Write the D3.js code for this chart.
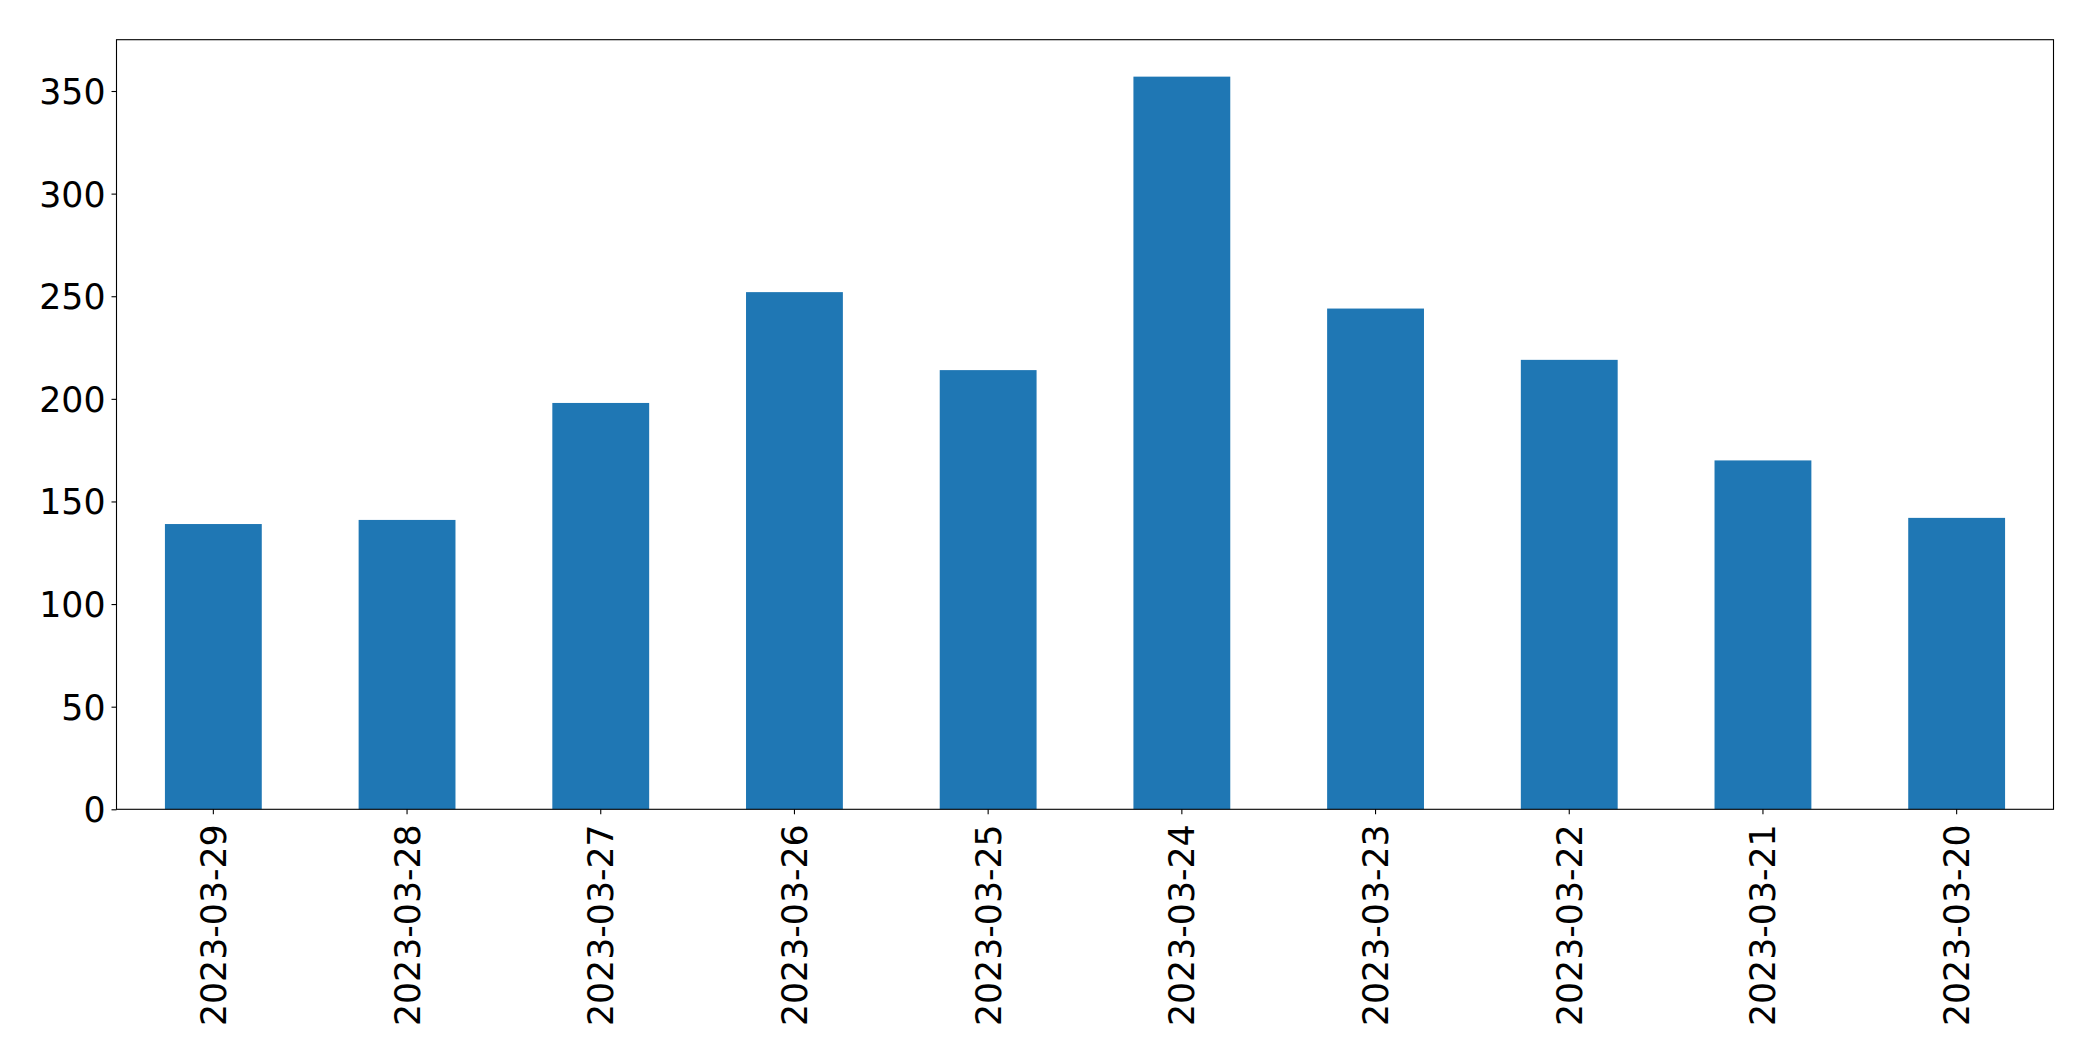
<!DOCTYPE html>
<html>
<head>
<meta charset="utf-8">
<script src="https://cdn.jsdelivr.net/npm/d3@7"></script>
<style>
  html, body { margin: 0; padding: 0; background: #fff; }
  svg { display: block; }
  text { font-family: "DejaVu Sans", sans-serif; }
</style>
</head>
<body>
<svg id="chart" width="2093" height="1061"></svg>
<script>
const categories = ["2023-03-29","2023-03-28","2023-03-27","2023-03-26","2023-03-25","2023-03-24","2023-03-23","2023-03-22","2023-03-21","2023-03-20"];
const values = [139, 141, 198, 252, 214, 357, 244, 219, 170, 142];
const yTicks = [0, 50, 100, 150, 200, 250, 300, 350];

const W = 2093, H = 1061;
const margin = { left: 116.5, right: 2093 - 2053.5, top: 39.7, bottom: 1061 - 809.3 };
const iw = W - margin.left - margin.right;
const ih = H - margin.top - margin.bottom;

const svg = d3.select("#chart");
const g = svg.append("g").attr("transform", `translate(${margin.left},${margin.top})`);

const x = d3.scaleBand().domain(categories).range([0, iw]).paddingInner(0.5).paddingOuter(0.25);
const y = d3.scaleLinear().domain([0, 375]).range([ih, 0]);

g.selectAll("rect.bar").data(values).enter().append("rect")
  .attr("class", "bar")
  .attr("x", (d, i) => x(categories[i]))
  .attr("width", x.bandwidth())
  .attr("y", d => y(d))
  .attr("height", d => y(0) - y(d))
  .attr("fill", "#1f77b4");

const fs = 34.72;

const yAxis = g.append("g")
  .call(d3.axisLeft(y).tickValues(yTicks).tickSize(5).tickPadding(6).tickFormat(d3.format("d")));
yAxis.select(".domain").remove();
yAxis.selectAll("line").attr("stroke", "#000").attr("stroke-width", 1.1);
yAxis.selectAll("text").attr("font-size", fs).attr("fill", "#000").attr("dy", "0.36em");

const xAxis = g.append("g").attr("transform", `translate(0,${ih})`)
  .call(d3.axisBottom(x).tickSize(5).tickPadding(0));
xAxis.select(".domain").remove();
xAxis.selectAll("line").attr("stroke", "#000").attr("stroke-width", 1.1);
xAxis.selectAll("text")
  .attr("font-size", fs).attr("fill", "#000")
  .attr("transform", "rotate(-90)")
  .attr("text-anchor", "end")
  .attr("x", -15).attr("y", 0).attr("dy", "0.36em");

g.append("rect")
  .attr("x", 0).attr("y", 0).attr("width", iw).attr("height", ih)
  .attr("fill", "none").attr("stroke", "#000").attr("stroke-width", 1.1);
</script>
</body>
</html>
